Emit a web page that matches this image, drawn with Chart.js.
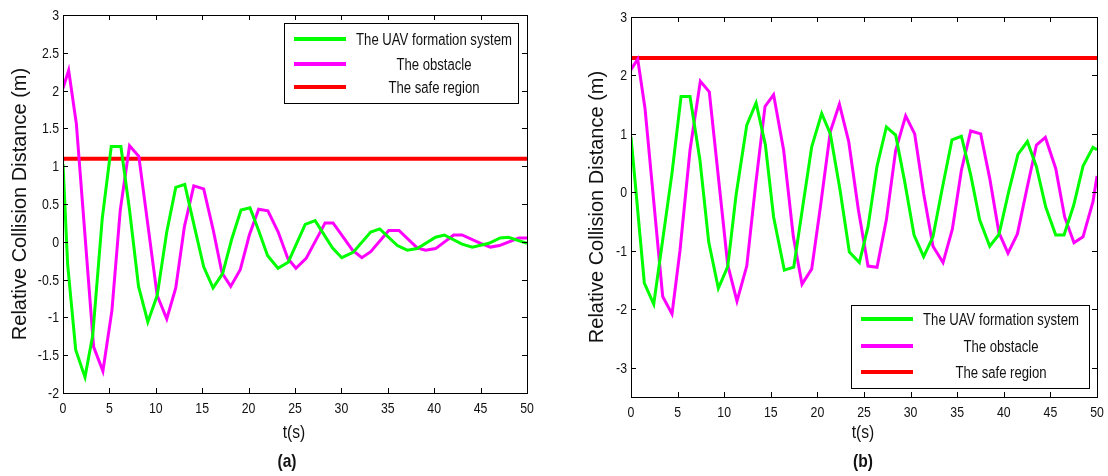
<!DOCTYPE html>
<html>
<head>
<meta charset="utf-8">
<script src="https://cdn.jsdelivr.net/npm/chart.js@4.4.0/dist/chart.umd.min.js"></script>
<style>
  body { margin: 0; background: #fff; width: 1108px; height: 476px; overflow: hidden; position: relative; }
  canvas { position: absolute; top: 0; }
  #ca { left: 0; }
  #cb { left: 565px; }
</style>
</head>
<body>
<canvas id="ca" width="560" height="476"></canvas>
<canvas id="cb" width="543" height="476"></canvas>
<script>
// axis ticks and series labels
const xTicks = [0, 5, 10, 15, 20, 25, 30, 35, 40, 45, 50];
const yTicksA = [-2, -1.5, -1, -0.5, 0, 0.5, 1, 1.5, 2, 2.5, 3];
const yTicksB = [-3, -2, -1, 0, 1, 2, 3];
const seriesNames = ['The UAV formation system', 'The obstacle', 'The safe region'];

// (a) UAV formation system
const tUavA = [0, 0.5, 1.37, 2.37, 3.2, 4.23, 5.2, 6.24, 7.17, 8.14, 9.14, 10.15, 11.18, 12.15, 13.12, 14.16, 15.16, 16.17, 17.2, 18.17, 19.18, 20.15, 21.08, 22.04, 23.16, 24.27, 26.1, 27.17, 29.03, 30.04, 31.26, 33.16, 34.13, 36.03, 37.1, 38.17, 40.15, 41.1, 43.0, 44.1, 45.9, 47.1, 48.0, 50];
const uavA  = [1.03, -0.3, -1.43, -1.79, -1.24, 0.31, 1.26, 1.26, 0.42, -0.59, -1.06, -0.71, 0.13, 0.72, 0.76, 0.2, -0.33, -0.61, -0.42, 0.03, 0.42, 0.45, 0.15, -0.18, -0.35, -0.27, 0.23, 0.28, -0.08, -0.21, -0.14, 0.13, 0.17, -0.05, -0.11, -0.09, 0.06, 0.09, -0.03, -0.07, -0.02, 0.05, 0.06, -0.02];
// (a) obstacle
const tObsA = [0, 0.61, 1.44, 3.3, 4.3, 5.27, 6.17, 7.17, 8.17, 10.15, 11.18, 12.15, 13.08, 14.09, 15.16, 16.2, 17.13, 18.07, 19.1, 20.08, 21.08, 22.08, 23.19, 24.23, 25.1, 26.2, 28.25, 29.1, 31.2, 32.2, 33.16, 35.1, 36.2, 38.17, 39.07, 40.15, 42.1, 43.0, 45.0, 46.06, 47.03, 49.1, 50];
const obsA  = [2.03, 2.27, 1.56, -1.39, -1.71, -0.91, 0.42, 1.27, 1.13, -0.71, -1.02, -0.61, 0.2, 0.74, 0.7, 0.15, -0.41, -0.59, -0.37, 0.09, 0.43, 0.41, 0.13, -0.22, -0.35, -0.22, 0.25, 0.25, -0.11, -0.21, -0.13, 0.15, 0.15, -0.08, -0.11, -0.09, 0.09, 0.09, -0.02, -0.07, -0.05, 0.05, 0.05];
const safeA = 1.1;

// (b) UAV formation system
const tUavB = [0, 1.43, 2.44, 4.4, 5.37, 6.33, 7.4, 8.34, 9.37, 10.38, 11.27, 12.42, 13.42, 14.42, 15.3, 16.45, 17.46, 18.42, 19.39, 20.46, 21.39, 22.43, 23.43, 24.5, 25.43, 26.4, 27.4, 28.4, 29.37, 30.37, 31.4, 32.4, 33.4, 34.44, 35.45, 36.45, 37.41, 38.49, 39.48, 40.52, 41.52, 42.53, 43.5, 44.5, 45.57, 46.46, 47.5, 48.5, 49.57, 50];
const uavB  = [0.95, -1.55, -1.91, 0.33, 1.64, 1.64, 0.55, -0.85, -1.64, -1.27, -0.05, 1.15, 1.53, 0.81, -0.42, -1.33, -1.28, -0.25, 0.78, 1.35, 1.0, 0.04, -1.02, -1.2, -0.59, 0.45, 1.12, 0.98, 0.18, -0.73, -1.1, -0.76, 0.07, 0.9, 0.96, 0.3, -0.47, -0.92, -0.72, 0.01, 0.65, 0.87, 0.44, -0.25, -0.73, -0.73, -0.22, 0.45, 0.77, 0.73];
// (b) obstacle
const tObsB = [0, 0.72, 1.5, 3.4, 4.4, 5.26, 6.33, 7.44, 8.4, 10.38, 11.37, 12.42, 13.35, 14.38, 15.3, 16.38, 17.42, 18.35, 19.39, 20.32, 21.39, 22.36, 23.36, 24.4, 25.43, 26.4, 27.4, 28.4, 29.47, 30.44, 31.4, 32.4, 33.48, 34.48, 35.45, 36.45, 37.52, 38.49, 39.48, 40.45, 41.46, 42.49, 43.5, 44.46, 45.57, 46.53, 47.53, 48.5, 49.57, 50];
const obsB  = [2.1, 2.28, 1.44, -1.78, -2.08, -0.99, 0.72, 1.9, 1.72, -1.24, -1.86, -1.26, 0.1, 1.47, 1.67, 0.72, -0.76, -1.57, -1.31, -0.25, 1.04, 1.51, 0.87, -0.3, -1.26, -1.28, -0.47, 0.72, 1.31, 1.0, -0.02, -0.92, -1.2, -0.63, 0.38, 1.05, 1.0, 0.24, -0.69, -1.04, -0.71, 0.07, 0.81, 0.94, 0.41, -0.42, -0.86, -0.76, -0.16, 0.28];
const safeB = 2.3;

const sans = '"Liberation Sans", Arial, sans-serif';
const ink = '#111';
const squeeze = 0.82;   // the figure text is horizontally condensed

function pts(t, v) {
  return t.map((x, i) => ({ x: x, y: v[i] }));
}

// narrow text: plain font scaled along x
function sText(ctx, str, x, y, align, font, sx) {
  ctx.save();
  ctx.translate(x, y);
  ctx.scale(sx, 1);
  ctx.font = font;
  ctx.fillStyle = ink;
  ctx.textAlign = align;
  ctx.textBaseline = 'alphabetic';
  ctx.fillText(str, 0, 0);
  ctx.restore();
}

// matlab style box with inward ticks
const frame = {
  id: 'frame',
  afterDatasetsDraw(chart) {
    const { ctx, chartArea: a, scales } = chart;
    ctx.save();
    ctx.strokeStyle = '#000';
    ctx.lineWidth = 1;
    ctx.beginPath();
    scales.x.ticks.forEach(t => {
      const px = Math.round(scales.x.getPixelForValue(t.value)) + 0.5;
      ctx.moveTo(px, a.bottom); ctx.lineTo(px, a.bottom - 5);
      ctx.moveTo(px, a.top); ctx.lineTo(px, a.top + 5);
    });
    scales.y.ticks.forEach(t => {
      const py = Math.round(scales.y.getPixelForValue(t.value)) + 0.5;
      ctx.moveTo(a.left, py); ctx.lineTo(a.left + 5, py);
      ctx.moveTo(a.right, py); ctx.lineTo(a.right - 5, py);
    });
    ctx.stroke();
    ctx.strokeRect(Math.round(a.left) + 0.5, Math.round(a.top) + 0.5, Math.round(a.right - a.left), Math.round(a.bottom - a.top));
    ctx.restore();
  }
};

// tick labels, axis titles and caption
const labels = {
  id: 'labels',
  afterDraw(chart, args, o) {
    const { ctx, chartArea: a, scales } = chart;
    const tickFont = '15px ' + sans;
    scales.x.ticks.forEach(t => {
      sText(ctx, String(t.value), scales.x.getPixelForValue(t.value), a.bottom + 20, 'center', tickFont, squeeze);
    });
    scales.y.ticks.forEach(t => {
      sText(ctx, String(t.value), a.left - 4, scales.y.getPixelForValue(t.value) + 5, 'right', tickFont, squeeze);
    });
    sText(ctx, 't(s)', (a.left + a.right) / 2 - 1, 438, 'center', '19px ' + sans, squeeze);
    sText(ctx, o.caption, o.capX, 467, 'center', 'bold 19px ' + sans, squeeze);
    ctx.save();
    ctx.translate(o.yTitleX, (a.top + a.bottom) / 2);
    ctx.rotate(-Math.PI / 2);
    ctx.font = '20px ' + sans;
    ctx.fillStyle = ink;
    ctx.textAlign = 'center';
    ctx.textBaseline = 'alphabetic';
    ctx.fillText('Relative Collision Distance (m)', 0, 0);
    ctx.restore();
  }
};

// boxed legend drawn from the datasets
const boxLegend = {
  id: 'boxLegend',
  afterDraw(chart, args, o) {
    const ctx = chart.ctx;
    ctx.save();
    ctx.fillStyle = '#fff';
    ctx.fillRect(o.box[0], o.box[1], o.box[2] - o.box[0], o.box[3] - o.box[1]);
    ctx.strokeStyle = '#000';
    ctx.lineWidth = 1;
    ctx.strokeRect(o.box[0] + 0.5, o.box[1] + 0.5, o.box[2] - o.box[0], o.box[3] - o.box[1]);
    chart.data.datasets.forEach((ds, i) => {
      const y = o.rows[i];
      ctx.strokeStyle = ds.borderColor;
      ctx.lineWidth = 4;
      ctx.beginPath();
      ctx.moveTo(o.line[0], y); ctx.lineTo(o.line[1], y);
      ctx.stroke();
      sText(ctx, ds.label, o.textX, y + 6, 'center', '16px ' + sans, squeeze);
    });
    ctx.restore();
  }
};

function makeChart(id, c) {
  return new Chart(document.getElementById(id), {
    type: 'line',
    data: {
      datasets: [
        { label: seriesNames[0], data: pts(c.tUav, c.uav), borderColor: '#00ff00', borderWidth: 3 },
        { label: seriesNames[1], data: pts(c.tObs, c.obs), borderColor: '#ff00ff', borderWidth: 3 },
        { label: seriesNames[2], data: [{ x: 0, y: c.safe }, { x: 50, y: c.safe }], borderColor: '#ff0000', borderWidth: 4 }
      ]
    },
    options: {
      responsive: false,
      animation: false,
      elements: { point: { radius: 0 }, line: { tension: 0 } },
      layout: { padding: { left: 0, top: c.top, right: c.right, bottom: 0 } },
      plugins: {
        legend: { display: false },
        tooltip: { enabled: false },
        boxLegend: c.legend,
        labels: c.labels
      },
      scales: {
        x: {
          type: 'linear', min: 0, max: 50,
          afterBuildTicks: s => { s.ticks = xTicks.map(v => ({ value: v })); },
          afterFit: s => { s.height = c.xh; },
          grid: { display: false, drawTicks: false },
          border: { display: false },
          ticks: { display: false }
        },
        y: {
          type: 'linear', min: c.ymin, max: c.ymax,
          afterBuildTicks: s => { s.ticks = c.yTicks.map(v => ({ value: v })); },
          afterFit: s => { s.width = c.yw; },
          grid: { display: false, drawTicks: false },
          border: { display: false },
          ticks: { display: false }
        }
      }
    },
    plugins: [frame, boxLegend, labels]
  });
}

makeChart('ca', {
  tUav: tUavA, uav: uavA, tObs: tObsA, obs: obsA, safe: safeA,
  ymin: -2, ymax: 3, yTicks: yTicksA,
  top: 15, right: 33, xh: 83, yw: 63,
  legend: { box: [284, 23, 518, 103], rows: [39, 64, 87], line: [294, 346], textX: 434 },
  labels: { caption: '(a)', capX: 287, yTitleX: 25.5 }
});

makeChart('cb', {
  tUav: tUavB, uav: uavB, tObs: tObsB, obs: obsB, safe: safeB,
  ymin: -3.5, ymax: 3, yTicks: yTicksB,
  top: 17, right: 11, xh: 79, yw: 66,
  legend: { box: [286, 305, 524, 388], rows: [319, 346, 372], line: [296, 348], textX: 436 },
  labels: { caption: '(b)', capX: 298, yTitleX: 38 }
});
</script>
</body>
</html>
